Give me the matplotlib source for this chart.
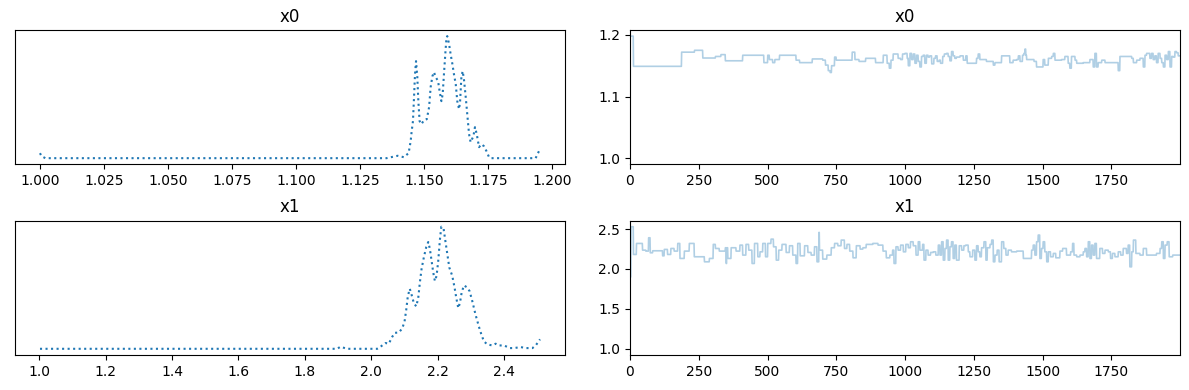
import numpy as np
import matplotlib
matplotlib.use("Agg")
import matplotlib.pyplot as plt

n_draws = 2000

# density curves (x, density)
x0_kde_x = [1.0001, 1.0007, 1.0022, 1.1354, 1.1397, 1.1421, 1.1440, 1.1448, 1.1452, 1.1457,
            1.1461, 1.1465, 1.1469, 1.1474, 1.1478, 1.1483, 1.1490, 1.1500, 1.1511, 1.1520,
            1.1526, 1.1533, 1.1539, 1.1546, 1.1555, 1.1561, 1.1568, 1.1573, 1.1578, 1.1584,
            1.1588, 1.1591, 1.1598, 1.1604, 1.1611, 1.1617, 1.1624, 1.1630, 1.1637, 1.1641,
            1.1646, 1.1651, 1.1656, 1.1663, 1.1670, 1.1676, 1.1682, 1.1693, 1.1699, 1.1706,
            1.1715, 1.1724, 1.1734, 1.1744, 1.1754, 1.1761, 1.1936, 1.1943, 1.1953]
x0_kde_y = [2.5, 1.0, 0.0, 0.0, 1.2, 0.5, 2.5, 8.5, 13.5, 18.5,
            30.0, 42.0, 48.5, 40.5, 28.5, 18.5, 17.0, 19.0, 19.5, 25.5,
            35.5, 41.0, 43.0, 40.5, 38.5, 33.5, 28.5, 32.0, 42.0, 53.5,
            60.5, 61.0, 57.0, 52.0, 47.0, 42.0, 37.0, 28.5, 24.5, 28.5,
            40.5, 43.5, 39.5, 30.5, 20.5, 12.0, 8.0, 11.0, 15.5, 12.0,
            5.5, 7.0, 6.0, 3.5, 0.5, 0.0, 0.0, 2.0, 4.5]

x1_kde_x = [1.0024, 1.8974, 1.9074, 1.9276, 1.9979, 2.0181, 2.0229, 2.0332, 2.0431, 2.0531,
            2.0633, 2.0712, 2.0833, 2.0935, 2.1005, 2.1056, 2.1104, 2.1164, 2.1216, 2.1285,
            2.1357, 2.1418, 2.1466, 2.1517, 2.1587, 2.1659, 2.1719, 2.1768, 2.1819, 2.1870,
            2.1919, 2.1970, 2.2021, 2.2069, 2.2112, 2.2181, 2.2232, 2.2293, 2.2353, 2.2443,
            2.2513, 2.2564, 2.2624, 2.2673, 2.2724, 2.2793, 2.2875, 2.2965, 2.3047, 2.3146,
            2.3246, 2.3327, 2.3397, 2.3499, 2.3650, 2.3750, 2.3849, 2.4000, 2.4181, 2.4302,
            2.4504, 2.4655, 2.4857, 2.4957, 2.5086]
x1_kde_y = [0.0, 0.0, 0.10, 0.0, 0.0, 0.0, 0.035, 0.165, 0.285, 0.25,
            0.585, 0.785, 0.80, 1.00, 1.335, 1.915, 2.585, 2.95, 2.665, 2.25,
            2.085, 2.50, 3.25, 3.915, 4.50, 5.00, 5.25, 4.915, 4.335, 3.75,
            3.335, 3.585, 4.335, 5.335, 6.00, 5.915, 5.335, 4.665, 4.00, 3.585,
            3.00, 2.50, 2.00, 2.25, 2.75, 3.115, 3.035, 2.835, 2.335, 1.665,
            1.085, 0.665, 0.365, 0.215, 0.165, 0.25, 0.165, 0.165, 0.035, 0.035,
            0.085, 0.035, 0.035, 0.165, 0.465]

# sampler traces, stored as (draw where a new value starts, value)
x0_step_at = [0, 1, 13, 188, 235, 265, 311, 331, 347, 410, 487, 501, 507, 519, 527, 544, 604,
              617, 663, 701, 711, 721, 728, 733, 744, 750, 808, 818, 833, 857, 893, 921, 935,
              943, 949, 957, 975, 984, 991, 1000, 1008, 1012, 1018, 1024, 1030, 1036, 1042,
              1048, 1054, 1060, 1066, 1072, 1078, 1084, 1090, 1097, 1105, 1111, 1117, 1124,
              1129, 1137, 1143, 1151, 1157, 1163, 1169, 1175, 1181, 1187, 1200, 1212, 1221,
              1226, 1260, 1266, 1272, 1296, 1321, 1327, 1351, 1381, 1393, 1406, 1412, 1418,
              1427, 1432, 1436, 1439, 1442, 1469, 1478, 1502, 1508, 1521, 1533, 1539, 1545,
              1569, 1581, 1593, 1599, 1605, 1618, 1624, 1648, 1672, 1684, 1690, 1696, 1702,
              1715, 1727, 1775, 1781, 1824, 1830, 1842, 1854, 1866, 1872, 1878, 1890, 1896,
              1902, 1908, 1914, 1920, 1927, 1933, 1939, 1945, 1951, 1957, 1963, 1969, 1975,
              1981, 1987, 1993]
x0_step_val = [1.000, 1.198, 1.149, 1.172, 1.175, 1.1625, 1.165, 1.168, 1.158, 1.167, 1.155,
               1.167, 1.160, 1.155, 1.160, 1.167, 1.159, 1.155, 1.161, 1.159, 1.151, 1.142,
               1.139, 1.150, 1.164, 1.159, 1.172, 1.160, 1.157, 1.162, 1.155, 1.167, 1.154,
               1.146, 1.159, 1.169, 1.162, 1.160, 1.169, 1.170, 1.162, 1.150, 1.170, 1.160,
               1.169, 1.154, 1.167, 1.157, 1.148, 1.165, 1.167, 1.154, 1.167, 1.164, 1.166,
               1.153, 1.162, 1.166, 1.157, 1.159, 1.154, 1.165, 1.169, 1.170, 1.165, 1.158,
               1.173, 1.166, 1.162, 1.164, 1.166, 1.159, 1.166, 1.154, 1.162, 1.169, 1.160,
               1.157, 1.151, 1.155, 1.166, 1.155, 1.159, 1.160, 1.166, 1.157, 1.167, 1.170,
               1.177, 1.167, 1.160, 1.157, 1.148, 1.160, 1.151, 1.162, 1.165, 1.170, 1.159,
               1.160, 1.165, 1.154, 1.146, 1.165, 1.159, 1.154, 1.155, 1.160, 1.148, 1.170,
               1.148, 1.155, 1.159, 1.155, 1.142, 1.165, 1.162, 1.155, 1.159, 1.162, 1.148,
               1.167, 1.170, 1.162, 1.170, 1.160, 1.166, 1.155, 1.170, 1.162, 1.155, 1.148,
               1.167, 1.160, 1.173, 1.148, 1.165, 1.164, 1.173, 1.171, 1.166]

x1_step_at = [0, 1, 4, 13, 24, 46, 58, 68, 74, 83, 119, 125, 137, 149, 161, 174, 182, 198, 216,
              234, 271, 289, 303, 311, 325, 347, 350, 352, 356, 368, 386, 400, 410, 422, 432,
              444, 453, 465, 473, 483, 493, 501, 513, 522, 532, 541, 553, 568, 580, 592, 604,
              610, 619, 635, 647, 659, 671, 680, 687, 689, 701, 716, 732, 744, 756, 768, 780,
              789, 799, 811, 823, 837, 847, 859, 883, 902, 920, 932, 945, 955, 960, 967, 975,
              984, 994, 1003, 1012, 1020, 1030, 1040, 1048, 1054, 1064, 1069, 1076, 1084,
              1093, 1103, 1112, 1121, 1127, 1133, 1139, 1145, 1151, 1157, 1163, 1169, 1175,
              1181, 1187, 1197, 1206, 1214, 1221, 1230, 1236, 1246, 1254, 1260, 1266, 1272,
              1278, 1287, 1294, 1299, 1309, 1315, 1321, 1327, 1335, 1342, 1351, 1359, 1367,
              1375, 1387, 1406, 1430, 1460, 1466, 1472, 1478, 1484, 1490, 1496, 1502, 1508,
              1515, 1521, 1529, 1539, 1548, 1563, 1573, 1587, 1602, 1609, 1614, 1624, 1636,
              1648, 1654, 1660, 1666, 1672, 1678, 1684, 1690, 1696, 1708, 1718, 1727, 1739,
              1747, 1754, 1763, 1775, 1784, 1793, 1805, 1811, 1817, 1824, 1830, 1839, 1854,
              1866, 1878, 1914, 1927, 1933, 1939, 1945, 1953, 1960, 1973]
x1_step_val = [1.00, 1.90, 2.529, 2.182, 2.320, 2.236, 2.224, 2.391, 2.203, 2.228, 2.165, 2.245,
               2.182, 2.257, 2.224, 2.320, 2.132, 2.224, 2.320, 2.153, 2.090, 2.132, 2.308,
               2.257, 2.224, 2.266, 2.069, 2.266, 2.132, 2.266, 2.224, 2.299, 2.174, 2.308,
               2.236, 2.069, 2.320, 2.153, 2.215, 2.320, 2.153, 2.320, 2.374, 2.278, 2.111,
               2.236, 2.308, 2.207, 2.291, 2.174, 2.069, 2.320, 2.165, 2.291, 2.207, 2.174,
               2.278, 2.090, 2.458, 2.236, 2.124, 2.174, 2.266, 2.320, 2.291, 2.362, 2.257,
               2.308, 2.224, 2.140, 2.291, 2.249, 2.266, 2.308, 2.320, 2.299, 2.224, 2.140,
               2.174, 2.236, 2.069, 2.278, 2.236, 2.299, 2.215, 2.308, 2.266, 2.341, 2.291,
               2.174, 2.341, 2.236, 2.308, 2.111, 2.236, 2.174, 2.207, 2.215, 2.174, 2.299,
               2.174, 2.341, 2.111, 2.257, 2.362, 2.111, 2.278, 2.341, 2.132, 2.299, 2.111,
               2.291, 2.236, 2.291, 2.299, 2.215, 2.153, 2.236, 2.111, 2.291, 2.215, 2.153,
               2.266, 2.341, 2.111, 2.266, 2.308, 2.362, 2.090, 2.174, 2.236, 2.090, 2.341,
               2.257, 2.174, 2.236, 2.215, 2.224, 2.132, 2.236, 2.299, 2.174, 2.341, 2.425,
               2.132, 2.257, 2.341, 2.215, 2.090, 2.215, 2.153, 2.195, 2.140, 2.224, 2.257,
               2.174, 2.215, 2.320, 2.174, 2.153, 2.174, 2.215, 2.257, 2.153, 2.341, 2.132,
               2.299, 2.174, 2.320, 2.132, 2.257, 2.195, 2.236, 2.215, 2.132, 2.195, 2.153,
               2.215, 2.174, 2.257, 2.195, 2.299, 2.027, 2.215, 2.362, 2.195, 2.174, 2.257,
               2.174, 2.195, 2.257, 2.341, 2.132, 2.299, 2.341, 2.153, 2.174]


def expand(starts, vals):
    lengths = np.diff(starts + [n_draws])
    return np.repeat(vals, lengths)


x0_trace = expand(x0_step_at, x0_step_val)
x1_trace = expand(x1_step_at, x1_step_val)

fig, axes = plt.subplots(2, 2, figsize=(11.89, 3.9))

rows = [
    ("x0", x0_kde_x, x0_kde_y, x0_trace),
    ("x1", x1_kde_x, x1_kde_y, x1_trace),
]
for i, (name, kx, ky, trace) in enumerate(rows):
    ax_kde, ax_tr = axes[i]
    ax_kde.plot(kx, ky, color="C0", linestyle=":", linewidth=1.5)
    ax_kde.set_yticks([])
    ax_kde.set_title(name)

    ax_tr.plot(np.arange(n_draws), trace, color="C0", alpha=0.35, linewidth=1.2)
    ax_tr.set_xlim(0, n_draws - 1)
    ax_tr.set_title(name)

axes[0, 0].set_xticks(np.arange(1.0, 1.2001, 0.025))
axes[1, 1].set_yticks([1.0, 1.5, 2.0, 2.5])

# spacing matched to the reference figure
plt.subplots_adjust(left=0.0126, right=0.9924, top=0.923, bottom=0.09,
                    wspace=0.118, hspace=0.42)
plt.savefig("out.png", dpi=100)
